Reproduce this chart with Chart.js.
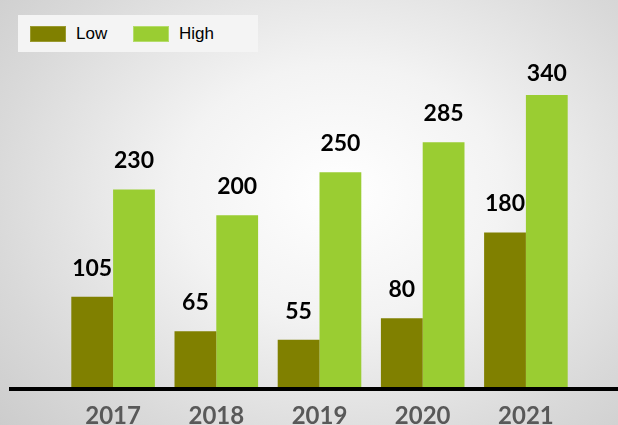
<!DOCTYPE html>
<html>
<head>
<meta charset="utf-8">
<script src="https://cdn.jsdelivr.net/npm/chart.js@4/dist/chart.umd.min.js"></script>
<style>
  html, body { margin: 0; padding: 0; width: 618px; height: 425px; overflow: hidden; }
  body { background: radial-gradient(ellipse 75% 85% at 55% 45%, #ffffff 0%, #f3f3f3 35%, #d9d9d9 75%, #cbcbcb 100%); position: relative; }
  #wrap { position: absolute; left: 0; top: 0; width: 618px; height: 432px; }
  #legend { position: absolute; left: 18px; top: 15px; width: 240px; height: 37px; background: #f4f4f4;
            font-family: "Liberation Sans", Arial, sans-serif; font-size: 17px; color: #000; }
  #legend .item { position: absolute; top: 0; height: 37px; line-height: 37px; }
  #legend .sw { position: absolute; top: 11px; width: 36px; height: 16px; box-sizing: border-box; }
</style>
</head>
<body>
<div id="wrap"><canvas id="barChart" width="618" height="432"></canvas></div>
<div id="legend"></div>
<script>
// chart data
const years = ['2017', '2018', '2019', '2020', '2021'];
const lowValues = [105, 65, 55, 80, 180];
const highValues = [230, 200, 250, 285, 340];
const seriesNames = ['Low', 'High'];
const seriesColors = ['#808000', '#9acd32'];

// legend (html, so it can sit in its own light box)
const legendEl = document.getElementById('legend');
const legendX = [12, 115];
seriesNames.forEach((name, i) => {
    const sw = document.createElement('div');
    sw.className = 'sw';
    sw.style.left = legendX[i] + 'px';
    sw.style.background = seriesColors[i];
    sw.style.border = '1px solid ' + (i === 0 ? '#9a9a30' : '#b4dc6a');
    legendEl.appendChild(sw);
    const txt = document.createElement('div');
    txt.className = 'item';
    txt.style.left = (legendX[i] + 46) + 'px';
    txt.textContent = name;
    legendEl.appendChild(txt);
});

// values above bars
const valueLabels = {
    id: 'valueLabels',
    afterDatasetsDraw(chart) {
        const ctx = chart.ctx;
        ctx.save();
        ctx.font = 'bold 23px Lato';
        ctx.fillStyle = '#000';
        ctx.textAlign = 'center';
        ctx.textBaseline = 'alphabetic';
        chart.data.datasets.forEach((ds, i) => {
            chart.getDatasetMeta(i).data.forEach((bar, j) => {
                ctx.fillText(ds.data[j], bar.x, Math.max(bar.y - 21, 81));
            });
        });
        ctx.restore();
    }
};

// thick black baseline running across the page
const baseline = {
    id: 'baseline',
    afterDatasetsDraw(chart) {
        const ctx = chart.ctx;
        const y = chart.scales.y.getPixelForValue(0);
        ctx.save();
        ctx.strokeStyle = '#000';
        ctx.lineWidth = 4;
        ctx.beginPath();
        ctx.moveTo(9, y + 2);
        ctx.lineTo(chart.width, y + 2);
        ctx.stroke();
        ctx.restore();
    }
};

const ctx = document.getElementById('barChart').getContext('2d');
new Chart(ctx, {
    type: 'bar',
    data: {
        labels: years,
        datasets: [{
            label: seriesNames[0],
            data: lowValues,
            backgroundColor: seriesColors[0]
        }, {
            label: seriesNames[1],
            data: highValues,
            backgroundColor: seriesColors[1]
        }]
    },
    options: {
        responsive: false,
        animation: false,
        layout: { padding: { left: 61.5, right: 40.5, top: 43.4, bottom: 0 } },
        datasets: { bar: { categoryPercentage: 0.81, barPercentage: 1.0 } },
        plugins: { legend: { display: false }, tooltip: { enabled: false } },
        scales: {
            x: {
                grid: { display: false, drawTicks: false },
                border: { display: false },
                ticks: { color: '#595959', font: { family: 'Lato', size: 24, weight: 'bold' }, padding: 15 },
                afterFit(scale) { scale.height = 45; }
            },
            y: { display: false, min: 0, max: 400 }
        }
    },
    plugins: [valueLabels, baseline]
});
</script>
</body>
</html>
